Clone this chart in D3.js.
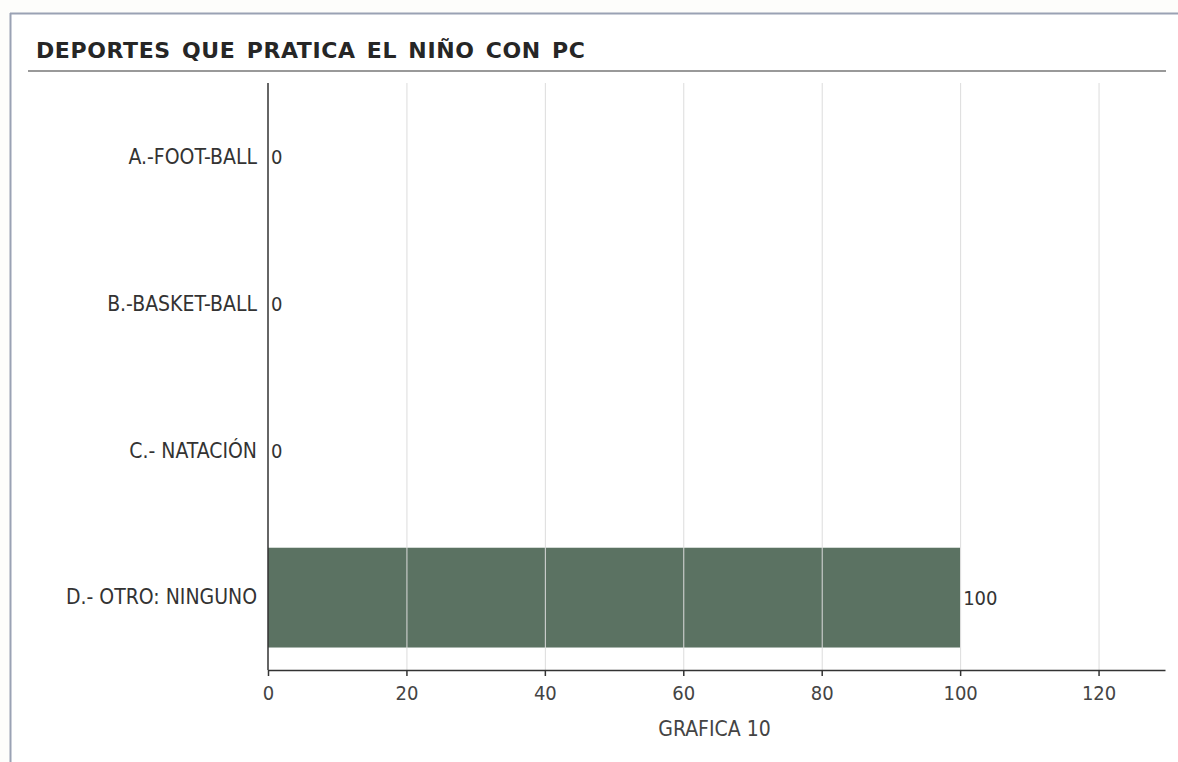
<!DOCTYPE html>
<html>
<head>
<meta charset="utf-8">
<script src="https://cdn.jsdelivr.net/npm/d3@7"></script>
<style>
  html, body { margin: 0; padding: 0; background: #fdfdfb; }
  svg { display: block; }
</style>
</head>
<body>
<svg id="chart" width="1178" height="762"></svg>
<script>
const categories = ["A.-FOOT-BALL", "B.-BASKET-BALL", "C.- NATACIÓN", "D.- OTRO: NINGUNO"];
const values = [0, 0, 0, 100];
const xTicks = [0, 20, 40, 60, 80, 100, 120];
const chartTitle = "DEPORTES QUE PRATICA EL NIÑO CON PC";
const axisTitle = "GRAFICA 10";

const W = 1178, H = 762;
const m = { left: 268, right: 1165, top: 83, bottom: 670 };
const font = "'DejaVu Sans Condensed', 'DejaVu Sans', sans-serif";
const titleFont = "'DejaVu Sans', Verdana, sans-serif";

const svg = d3.select("#chart");

// panel frame
svg.append("rect").attr("x", 10).attr("y", 13).attr("width", W - 10).attr("height", H - 13)
  .attr("fill", "#ffffff");
svg.append("line").attr("x1", 10).attr("x2", W).attr("y1", 13.5).attr("y2", 13.5)
  .attr("stroke", "#9aa2b4").attr("stroke-width", 2);
svg.append("line").attr("x1", 10.5).attr("x2", 10.5).attr("y1", 13).attr("y2", H)
  .attr("stroke", "#9aa2b4").attr("stroke-width", 2);

// title and rule
svg.append("text").attr("x", 36).attr("y", 58)
  .attr("font-family", titleFont).attr("font-size", 22).attr("font-weight", "bold")
  .attr("letter-spacing", "0.6px").attr("word-spacing", "3px")
  .attr("fill", "#262626")
  .text(chartTitle);
svg.append("line").attr("x1", 28).attr("x2", 1166).attr("y1", 71).attr("y2", 71)
  .attr("stroke", "#777").attr("stroke-width", 1.5);

const x = d3.scaleLinear().domain([0, 129.6]).range([m.left, m.right]);
const y = d3.scaleBand().domain(categories).range([m.top + 1, m.bottom + 1]).paddingInner(0.32).paddingOuter(0.16);

// bars
svg.append("g").selectAll("rect").data(values).join("rect")
  .attr("x", x(0))
  .attr("y", (d, i) => y(categories[i]))
  .attr("width", d => x(d) - x(0))
  .attr("height", y.bandwidth())
  .attr("fill", "#5b7262");

// vertical grid lines
svg.append("g").selectAll("line").data(xTicks.filter(t => t > 0)).join("line")
  .attr("x1", d => x(d) + 0.5).attr("x2", d => x(d) + 0.5)
  .attr("y1", m.top).attr("y2", m.bottom)
  .attr("stroke", "#dcdcdc").attr("stroke-width", 1);

// x axis
const xAxis = svg.append("g").attr("transform", `translate(0,${m.bottom})`)
  .call(d3.axisBottom(x).tickValues(xTicks).tickSize(6).tickSizeOuter(0).tickPadding(10));
xAxis.select(".domain").attr("stroke", "#333").attr("stroke-width", 1.5);
xAxis.selectAll(".tick line").attr("stroke", "#333").attr("stroke-width", 1.5);
xAxis.selectAll("text").attr("font-family", font).attr("font-size", 20).attr("fill", "#444");

// y axis
const yAxis = svg.append("g").attr("transform", `translate(${m.left},0)`)
  .call(d3.axisLeft(y).tickSize(0).tickPadding(11));
yAxis.select(".domain").attr("stroke", "#333").attr("stroke-width", 1.5)
  .attr("d", `M0,${m.top}V${m.bottom}`);
yAxis.selectAll("text").attr("font-family", font).attr("font-size", 21).attr("fill", "#333");

// value labels
svg.append("g").selectAll("text").data(values).join("text")
  .attr("x", d => x(d) + 3)
  .attr("y", (d, i) => y(categories[i]) + y.bandwidth() / 2)
  .attr("dy", "0.35em")
  .attr("font-family", font).attr("font-size", 20).attr("fill", "#333")
  .text(d => d);

// axis title
svg.append("text").attr("x", (m.left + m.right) / 2 - 2).attr("y", 736)
  .attr("text-anchor", "middle")
  .attr("font-family", font).attr("font-size", 21).attr("fill", "#444")
  .text(axisTitle);
</script>
</body>
</html>
